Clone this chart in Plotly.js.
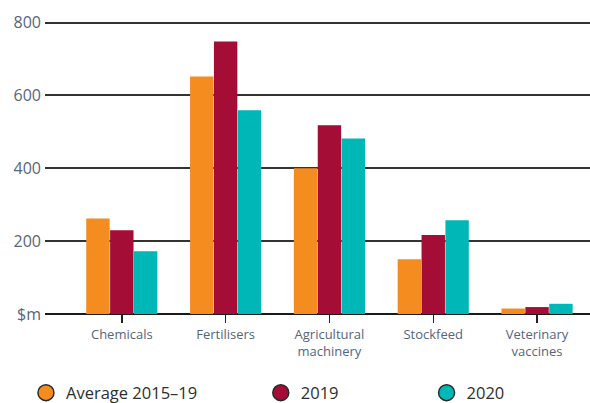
<!DOCTYPE html>
<html>
<head>
<meta charset="utf-8">
<script src="https://cdn.plot.ly/plotly-3.0.1.min.js"></script>
<style>html,body{margin:0;padding:0;background:#fff;}#chart{width:590px;height:403px;}</style>
</head>
<body>
<div id="chart"></div>
<script>
const categories = ["Chemicals", "Fertilisers", "Agricultural machinery", "Stockfeed", "Veterinary vaccines"];
const tickLabels = ["Chemicals", "Fertilisers", "Agricultural<br>machinery", "Stockfeed", "Veterinary<br>vaccines"];
const seriesNames = ["Average 2015\u201319", "2019", "2020"];
const avg2015_19 = [262, 652, 400, 150, 15];
const y2019 = [230, 748, 518, 217, 19];
const y2020 = [172, 559, 482, 257, 28];
const yTickVals = [0, 200, 400, 600, 800];
const yTickText = ["$m", "200", "400", "600", "800"];
const colors = ["#F48C20", "#A30D36", "#00B7B8"];

const seriesValues = [avg2015_19, y2019, y2020];
const legendIds = ["legend", "legend2", "legend3"];

const traces = [];
seriesValues.forEach((vals, i) => {
  traces.push({
    type: "bar", x: categories, y: vals, name: seriesNames[i],
    marker: {color: colors[i]}, showlegend: false, hoverinfo: "x+y"
  });
});
seriesValues.forEach((vals, i) => {
  traces.push({
    type: "scatter", mode: "markers", x: [null], y: [null], name: seriesNames[i],
    legend: legendIds[i], showlegend: true,
    marker: {color: colors[i], size: 20, symbol: "circle", line: {color: "#2a2a2a", width: 1.5}}
  });
});

const legendBase = {
  orientation: "h", yanchor: "middle", xanchor: "left", yref: "container", xref: "container", y: 0.025,
  font: {family: "Open Sans, sans-serif", size: 16.5, color: "#2e2e2e"},
  bgcolor: "rgba(0,0,0,0)", borderwidth: 0, itemclick: false, itemdoubleclick: false
};

const layout = {
  width: 590, height: 403,
  margin: {l: 45, r: 0, t: 20, b: 89, autoexpand: false},
  paper_bgcolor: "#ffffff", plot_bgcolor: "#ffffff",
  barmode: "group", bargap: 0.31, bargroupgap: 0.02,
  xaxis: {
    type: "category", range: [-0.74, 4.51], automargin: false,
    tickmode: "array", tickvals: categories, ticktext: tickLabels,
    ticks: "outside", ticklen: 8, tickwidth: 1.5, tickcolor: "#222222",
    showgrid: false, showline: false, zeroline: false,
    tickfont: {family: "Open Sans, sans-serif", size: 13, color: "#56657c"}
  },
  yaxis: {
    range: [0, 807], tickmode: "array", tickvals: yTickVals, ticktext: yTickText, automargin: false,
    showgrid: true, gridcolor: "#333333", gridwidth: 2,
    zeroline: true, zerolinecolor: "#1a1a1a", zerolinewidth: 2,
    showline: false, ticks: "", ticklabelstandoff: 3,
    tickfont: {family: "Open Sans, sans-serif", size: 16, color: "#56657c"}
  },
  legend: Object.assign({}, legendBase, {x: 0.044}),
  legend2: Object.assign({}, legendBase, {x: 0.442}),
  legend3: Object.assign({}, legendBase, {x: 0.723}),
  showlegend: true
};

Plotly.newPlot("chart", traces, layout, {displayModeBar: false, staticPlot: true});
</script>
</body>
</html>
